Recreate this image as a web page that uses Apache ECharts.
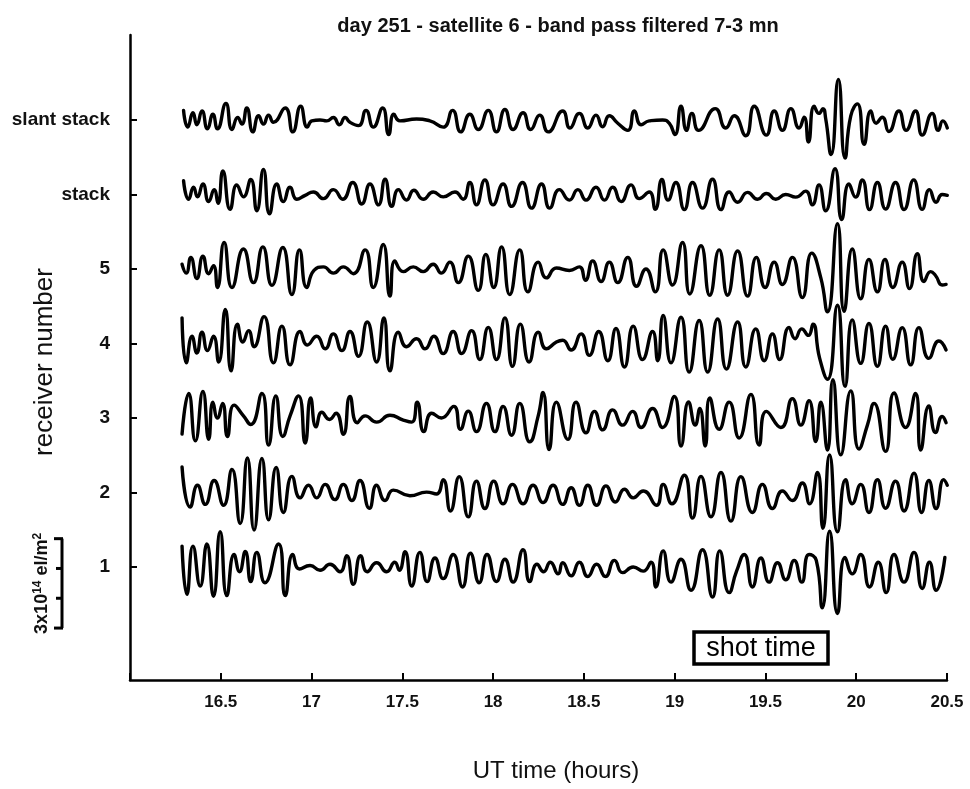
<!DOCTYPE html>
<html>
<head>
<meta charset="utf-8">
<script src="https://cdn.jsdelivr.net/npm/echarts@6/dist/echarts.min.js"></script>
<style>
  html, body { margin: 0; padding: 0; background: #fff; }
  #chart { width: 970px; height: 789px; }
</style>
</head>
<body>
<div id="chart"></div>
<script>
// Band-pass filtered (7-3 mn) TEC perturbations, day 251, satellite 6.
// Each trace: [minutes after 16:00 UT, deviation in 10^12 el/m^2]
const slantStack = [
  [17.7,32],[19.1,-24],[20.8,24],[22.1,-16],[23.8,30],[25.6,-30],[27.4,19],[28.9,-30],[31.7,55],[33.7,-32],[35.6,8],[37.0,-14],[38.6,40],[40.6,-40],[42.5,14],[44.1,-14],[45.8,16],[47.4,-8],[51.3,40],[53.8,-40],[56.4,46],[58.6,-24],[60.1,-3],[62.8,0],[65.0,-3],[67.2,8],[69.2,-16],[71.1,8],[72.7,-8],[75.5,-19],[78.0,32],[80.4,-24],[83.5,40],[85.5,-49],[87.2,19],[89.2,-3],[94.7,3],[99.1,-3],[103.5,-24],[106.6,32],[109.3,-40],[112.3,19],[115.1,-32],[118.4,32],[121.1,-40],[123.9,35],[126.6,-32],[129.9,24],[132.4,-32],[135.4,16],[138.2,-40],
  [143.0,30],[145.4,-27],[148.5,22],[151.3,-27],[154.0,16],[156.2,-23],[158.4,14],[161.2,-11],[164.5,-35],[166.7,30],[168.9,-16],[171.6,-3],[176.0,0],[178.2,-11],[180.1,-49],[182.1,46],[183.9,-35],[185.7,22],[187.9,-35],[193.4,38],[196.9,-27],[199.7,14],[203.5,-53],[206.3,46],[210.3,-51],[212.9,30],[215.6,-35],[218.4,38],[221.1,-27],[222.8,9],[224.2,-74],[226.1,46],[227.7,22],[229.0,38],[229.9,5],[231.7,-116],[234.1,136],[236.3,-128],[238.2,14],[240.4,54],[242.6,-82],[244.8,30],[246.6,-11],[248.6,9],[250.8,-39],[254.1,30],[256.5,-35],[259.6,30],[261.8,-51],[265.1,22],[267.1,-35],[268.6,-3],[270.1,-27]
];
const stack = [
  [17.7,46],[19.4,-16],[21.0,24],[22.3,-8],[24.1,35],[26.0,-24],[27.8,16],[29.1,-30],[30.7,79],[33.1,-50],[35.3,32],[37.5,-8],[39.9,50],[41.9,-55],[44.1,84],[46.1,-65],[48.5,35],[50.7,-24],[52.9,24],[55.1,-16],[57.9,-3],[60.6,8],[63.9,-14],[67.2,16],[70.3,-16],[73.6,40],[76.6,-32],[79.3,35],[82.1,-35],[84.3,51],[86.5,-40],[88.7,16],[91.4,-19],[93.8,14],[96.9,-16],[100.2,8],[103.5,-8],[107.4,8],[110.1,-16],[112.3,40],[114.5,-35],[117.3,49],[120.0,-35],[123.3,35],[126.1,-40],[129.7,40],[132.7,-46],[136.0,35],[138.7,-46],
  [141.9,16],[145.2,-19],[148.0,16],[150.7,-19],[154.0,24],[156.8,-19],[159.5,24],[162.3,-24],[165.6,32],[168.3,-14],[171.6,8],[173.6,-50],[175.8,50],[177.8,-19],[180.4,40],[183.2,-51],[185.9,40],[189.2,-46],[192.5,51],[195.3,-51],[198.0,8],[200.8,-26],[204.1,7],[207.4,-16],[210.3,3],[213.4,-16],[216.7,0],[220.0,-9],[223.3,11],[225.5,-35],[227.7,32],[229.9,-55],[233.0,86],[235.2,-84],[237.6,35],[239.8,-9],[242.0,49],[244.4,-51],[247.0,40],[249.7,-49],[253.0,40],[255.8,-51],[259.0,49],[261.8,-50],[264.2,16],[266.4,-26],[268.4,0],[270.1,-3]
];
const receiver5 = [
  [17.2,16],[18.6,-14],[20.1,39],[22.1,-32],[24.1,43],[26.0,-16],[27.6,11],[28.9,-62],[31.1,89],[33.7,-62],[37.5,67],[40.8,-46],[43.9,74],[46.9,-55],[50.5,72],[53.5,-86],[56.0,64],[58.4,-62],[60.8,-5],[63.9,7],[67.2,-14],[70.5,7],[73.8,-16],[77.7,64],[80.4,-62],[83.7,82],[85.9,-91],[87.5,27],[90.3,-9],[93.6,7],[96.9,-9],[100.2,16],[102.9,-14],[105.7,23],[108.5,-46],[111.8,43],[115.1,-72],[117.6,49],[120.2,-62],[122.8,74],[125.5,-86],[128.8,64],[131.5,-77],[134.9,23],[137.6,-30],[140.9,3],
  [145.2,-5],[148.5,7],[150.5,-38],[152.9,27],[155.7,-42],[158.4,23],[161.2,-46],[164.5,39],[167.4,-58],[170.5,0],[173.6,-77],[176.2,64],[179.3,-54],[182.6,89],[185.0,-84],[188.7,78],[191.6,-88],[194.7,64],[197.5,-88],[200.8,60],[204.1,-91],[207.0,39],[209.9,-62],[212.9,23],[215.6,-52],[218.9,39],[222.2,-96],[225.3,53],[228.3,-30],[230.5,-144],[233.8,152],[236.0,-142],[238.7,67],[241.5,-100],[244.2,32],[247.0,-77],[249.5,32],[252.1,-62],[255.2,23],[257.6,-66],[260.2,51],[262.4,-42],[264.6,-9],[266.2,-22],[268.4,-54],[269.7,-52]
];
const receiver4 = [
  [17.2,86],[18.6,-65],[20.5,24],[22.1,-32],[23.8,38],[25.6,-24],[27.6,24],[29.3,-62],[31.5,114],[33.4,-92],[35.5,65],[37.3,5],[39.2,43],[41.0,-11],[44.3,90],[47.4,-65],[50.2,58],[52.9,-72],[56.2,40],[58.6,-5],[61.7,24],[64.5,-18],[67.2,32],[70.0,-24],[72.7,40],[75.5,-43],[78.4,72],[81.5,-62],[83.9,86],[85.9,-92],[88.7,38],[91.4,-11],[94.7,16],[97.5,-18],[100.4,24],[103.5,-34],[106.8,40],[109.6,-34],[112.9,43],[115.6,-54],[118.4,54],[121.1,-54],[123.9,86],[126.4,-77],[129.0,65],[131.9,-62],[134.9,38],[137.6,-18],[140.9,5],
  [143.0,11],[145.8,-22],[149.1,32],[151.8,-40],[154.9,40],[157.9,-58],[160.6,50],[163.4,-79],[166.3,58],[169.4,-54],[172.7,40],[174.4,-58],[176.2,94],[178.8,-65],[182.1,88],[184.8,-96],[188.1,77],[190.9,-96],[194.2,82],[197.1,-86],[200.8,72],[203.5,-79],[206.8,49],[209.6,-58],[212.3,32],[214.7,-54],[217.8,54],[219.8,16],[222.0,49],[224.2,27],[225.7,65],[227.9,-49],[230.5,-120],[233.8,128],[236.3,-144],[238.7,79],[241.5,-67],[244.2,67],[247.0,-77],[249.7,58],[252.1,-53],[255.2,53],[258.0,-72],[260.7,53],[264.0,-50],[267.3,8],[269.7,-22]
];
const receiver3 = [
  [17.2,-54],[19.4,82],[21.6,-77],[24.1,89],[26.0,-72],[27.4,53],[28.9,0],[30.6,49],[32.2,-62],[34.4,43],[37.5,7],[39.9,-22],[43.6,82],[45.8,-91],[48.2,74],[50.5,-62],[52.9,7],[55.7,74],[57.9,-84],[59.7,67],[61.5,-30],[63.4,19],[65.9,-5],[68.1,16],[70.5,-55],[72.7,72],[75.1,-16],[77.7,7],[81.5,-14],[85.9,9],[90.3,-7],[93.1,-14],[94.9,53],[97.1,-46],[99.7,16],[102.9,0],[107.0,39],[109.2,-38],[111.8,23],[114.5,-46],[117.8,49],[120.6,-46],[123.3,39],[126.1,-58],[128.8,49],[132.1,-80],[134.9,7],[136.5,86],[138.5,-106],[140.9,53],
  [144.7,-72],[147.4,53],[150.7,-50],[153.5,22],[156.2,-40],[159.5,27],[162.8,-24],[166.1,22],[168.9,-32],[172.7,32],[176.0,-32],[179.9,72],[182.1,-94],[184.6,54],[186.8,-24],[188.3,32],[190.1,-94],[191.6,67],[194.7,-38],[198.0,53],[201.3,-67],[205.2,79],[207.9,-91],[210.3,22],[215.1,-32],[218.9,65],[221.7,-24],[224.4,58],[226.6,-79],[228.3,53],[230.5,-108],[232.3,128],[234.9,-124],[238.2,91],[240.9,-104],[243.7,-24],[245.9,49],[249.7,-112],[252.5,84],[256.3,-32],[259.6,82],[261.3,-108],[264.0,40],[266.2,-49],[268.4,5],[269.7,-16]
];
const receiver2 = [
  [17.2,86],[19.9,-49],[22.3,24],[24.9,-40],[27.8,40],[30.9,-43],[33.7,77],[36.4,-104],[38.8,116],[41.0,-126],[43.6,114],[45.8,-92],[48.3,84],[50.7,-67],[53.5,54],[56.2,-18],[59.0,24],[61.7,-18],[64.5,27],[67.7,-24],[70.5,27],[73.3,-27],[76.0,40],[79.1,-53],[81.5,24],[84.3,-27],[87.0,8],[92.5,-11],[98.0,1],[101.3,-5],[103.5,43],[105.9,-62],[108.8,53],[111.8,-82],[114.5,38],[117.3,-54],[120.2,38],[123.3,-38],[126.4,27],[129.9,-38],[133.2,24],[136.5,-34],[139.8,24],
  [143.0,-40],[145.8,16],[148.5,-43],[151.3,24],[154.2,-43],[157.3,22],[160.4,-32],[163.4,11],[166.3,-18],[169.6,5],[174.0,-43],[176.2,27],[179.1,-38],[183.2,58],[185.9,-86],[188.7,54],[192.0,-82],[195.3,67],[198.6,-96],[201.9,53],[205.7,-67],[209.0,27],[212.3,-54],[215.6,5],[218.9,-27],[222.2,32],[224.6,-38],[227.2,67],[229.0,-120],[231.2,126],[233.8,-132],[236.5,43],[238.7,-38],[241.5,27],[244.2,-67],[247.0,43],[249.7,-53],[253.0,38],[255.8,-62],[259.1,65],[261.6,-67],[264.0,40],[266.4,-54],[268.9,43],[270.1,24]
];
const receiver1 = [
  [17.2,70],[18.8,-92],[20.8,70],[23.2,-64],[25.4,77],[27.6,-98],[29.8,118],[32.0,-96],[34.4,42],[36.2,-16],[38.1,52],[39.9,-49],[41.9,49],[44.6,-53],[49.1,77],[51.3,-96],[53.8,42],[56.0,-7],[59.5,5],[62.8,-11],[66.1,9],[69.4,-16],[71.6,38],[73.8,-58],[76.2,38],[78.4,-16],[81.5,14],[84.8,-16],[87.5,16],[89.0,-11],[90.9,51],[93.1,-64],[95.8,49],[98.2,-49],[100.8,30],[103.5,-39],[106.8,42],[109.9,-67],[112.5,46],[115.4,-53],[118.0,42],[121.1,-49],[123.9,26],[126.6,-51],[129.9,58],[132.1,-49],[134.5,9],[136.7,-16],[138.9,16],[141.5,-23],
  [143.0,14],[145.8,-30],[148.5,16],[151.3,-32],[154.2,9],[157.1,-32],[160.1,22],[162.8,-19],[166.3,0],[169.6,-14],[172.2,16],[173.8,-67],[176.2,54],[178.8,-51],[182.1,26],[185.4,-78],[189.2,58],[192.5,-101],[194.9,54],[198.0,-86],[200.4,-16],[203.0,42],[205.7,-67],[208.5,30],[211.2,-51],[214.0,14],[216.7,-43],[219.5,22],[222.0,-51],[224.4,42],[226.8,22],[228.8,-137],[231.2,120],[233.8,-156],[236.3,32],[238.7,-23],[241.5,42],[244.4,-67],[247.3,16],[249.9,-86],[252.5,42],[255.8,-51],[259.1,49],[261.8,-72],[264.2,16],[266.4,-78],[269.3,32]
];

// Trace order from bottom (1) to top (slant stack)
const traceLabels = ['1', '2', '3', '4', '5', 'stack', 'slant stack'];
const traces = [receiver1, receiver2, receiver3, receiver4, receiver5, stack, slantStack];

const START_HOUR = 16;          // time origin of the minute offsets
const SPACING = 250;            // 10^12 el/m^2 between adjacent trace baselines
const SCALE_BAR = 300;          // 3x10^14 el/m^2
const xTicks = [16, 16.5, 17, 17.5, 18, 18.5, 19, 19.5, 20, 20.5];

const FONT = 'Liberation Sans, Arial, Helvetica, sans-serif';

const chart = echarts.init(document.getElementById('chart'), null, { renderer: 'canvas' });

const series = traces.map((pts, i) => ({
  name: traceLabels[i],
  type: 'line',
  data: pts.map(([m, v]) => [START_HOUR + m / 60, (i + 1) + v / SPACING]),
  smooth: 0.55,
  symbol: 'none',
  showSymbol: false,
  lineStyle: { color: '#000', width: 3.4, join: 'round', cap: 'round' },
  silent: true,
  animation: false
}));

chart.setOption({
  backgroundColor: '#fff',
  animation: false,
  title: {
    text: 'day 251 - satellite 6 - band pass filtered 7-3 mn',
    left: 553,
    top: 11,
    textAlign: 'center',
    textStyle: { fontFamily: FONT, fontWeight: 'bold', fontSize: 20, color: '#111' }
  },
  grid: { left: 130, right: 23, top: 35, bottom: 109, containLabel: false },
  xAxis: {
    type: 'value',
    min: xTicks[0],
    max: xTicks[xTicks.length - 1],
    interval: 0.5,
    axisLine: { show: true, onZero: false, lineStyle: { color: '#000', width: 2.5 } },
    axisTick: { show: true, inside: true, length: 7, lineStyle: { color: '#000', width: 2 } },
    axisLabel: {
      margin: 14,
      fontFamily: FONT, fontWeight: 'bold', fontSize: 17, color: '#111',
      formatter: v => (Math.abs(v - xTicks[0]) < 1e-6 ? '' : String(v))
    },
    splitLine: { show: false }
  },
  yAxis: {
    type: 'value',
    min: -0.517,
    max: 8.14,
    axisLine: { show: true, onZero: false, lineStyle: { color: '#000', width: 2.5 } },
    axisTick: {
      show: true, inside: true, length: 7,
      customValues: traceLabels.map((_, i) => i + 1),
      lineStyle: { color: '#000', width: 2 }
    },
    axisLabel: {
      margin: 20,
      customValues: traceLabels.map((_, i) => i + 1),
      fontFamily: FONT, fontWeight: 'bold', fontSize: 19, color: '#111',
      formatter: v => traceLabels[Math.round(v) - 1] || ''
    },
    splitLine: { show: false }
  },
  series: series
});

// Annotations placed through the axis scales
function px(x, y) { return chart.convertToPixel({ gridIndex: 0 }, [x, y]); }

const barBottom = 0.18;                       // baseline units
const barTop = barBottom + SCALE_BAR / SPACING;
const pB = px(xTicks[0], barBottom);
const pT = px(xTicks[0], barTop);
const barX = 62;
const barElems = [
  { type: 'line', shape: { x1: barX, y1: pT[1], x2: barX, y2: pB[1] }, style: { stroke: '#000', lineWidth: 3 } },
  { type: 'line', shape: { x1: barX - 8, y1: pT[1], x2: barX + 1, y2: pT[1] }, style: { stroke: '#000', lineWidth: 3 } },
  { type: 'line', shape: { x1: barX - 8, y1: pB[1], x2: barX + 1, y2: pB[1] }, style: { stroke: '#000', lineWidth: 3 } }
];
[1, 2].forEach(k => {
  const y = px(xTicks[0], barBottom + k * SCALE_BAR / SPACING / 3)[1];
  barElems.push({ type: 'line', shape: { x1: barX - 6, y1: y, x2: barX, y2: y }, style: { stroke: '#000', lineWidth: 3 } });
});

chart.setOption({
  graphic: [
    {
      type: 'text',
      x: 45, y: 362, rotation: Math.PI / 2,
      style: { text: 'receiver number', font: '26px ' + FONT, fill: '#111', align: 'center', verticalAlign: 'middle' }
    },
    {
      type: 'text',
      x: 556, y: 771,
      style: { text: 'UT time (hours)', font: '24px ' + FONT, fill: '#111', align: 'center', verticalAlign: 'middle' }
    },
    {
      type: 'text',
      x: 42, y: (pT[1] + pB[1]) / 2, rotation: Math.PI / 2,
      style: {
        text: '3x10{s|14} el/m{s|2}',
        font: 'bold 18px ' + FONT, fill: '#111', align: 'center', verticalAlign: 'middle',
        rich: { s: { fontSize: 12, fontWeight: 'bold', fontFamily: FONT, verticalAlign: 'top', padding: [0, 0, 9, 0] } }
      }
    },
    ...barElems,
    {
      type: 'group',
      x: 694, y: 632,
      children: [
        { type: 'rect', shape: { x: 0, y: 0, width: 134, height: 32 }, style: { fill: '#fff', stroke: '#000', lineWidth: 3.5 } },
        { type: 'text', x: 67, y: 17, style: { text: 'shot time', font: '27px ' + FONT, fill: '#000', align: 'center', verticalAlign: 'middle' } }
      ]
    }
  ]
});
</script>
</body>
</html>
